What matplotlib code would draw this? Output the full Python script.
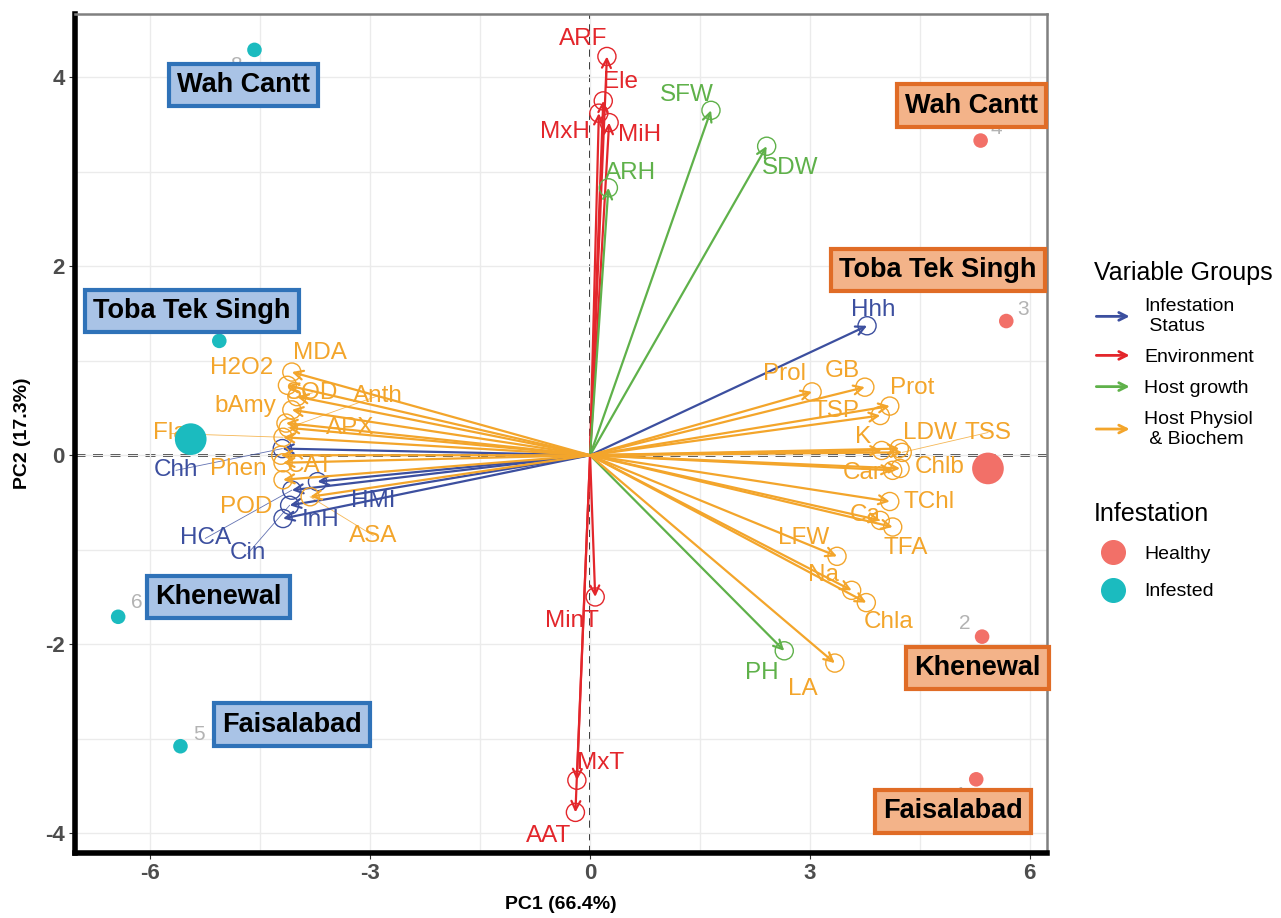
import numpy as np
import matplotlib.pyplot as plt
from matplotlib.patches import FancyArrowPatch
from matplotlib.legend_handler import HandlerPatch
from matplotlib.lines import Line2D

plt.rcParams['font.family'] = ['Liberation Sans', 'DejaVu Sans']
plt.rcParams['axes.unicode_minus'] = False

# --- variable loadings (arrow tips) and label positions ---
var_names = ['ARF', 'Ele', 'MxH', 'MiH', 'MinT', 'MxT', 'AAT',
             'ARH', 'SFW', 'SDW', 'PH',
             'Hhh', 'Chh', 'HCA', 'HMI', 'InH', 'Cin',
             'MDA', 'H2O2', 'SOD', 'bAmy', 'Anth', 'APX', 'Fla', 'Phen', 'CAT', 'POD', 'ASA',
             'Prol', 'GB', 'Prot', 'TSP', 'K', 'LDW', 'TSS', 'Car', 'Chlb', 'TChl', 'Ca', 'TFA',
             'LFW', 'Na', 'Chla', 'LA']
var_group = (['Environment'] * 7 + ['Host growth'] * 4 + ['Infestation Status'] * 6
             + ['Host Physiol & Biochem'] * 27)
var_x = [0.23, 0.18, 0.12, 0.26, 0.07, -0.18, -0.20,
         0.25, 1.65, 2.41, 2.65,
         3.78, -4.20, -4.07, -3.72, -4.19, -4.10,
         -4.07, -4.13, -4.00, -4.07, -4.12, -4.15, -4.19, -4.22, -4.19, -4.19, -3.82,
         3.03, 3.75, 4.09, 3.96, 3.98, 4.22, 4.26, 4.13, 4.23, 4.09, 3.96, 4.13,
         3.37, 3.57, 3.77, 3.34]
var_y = [4.22, 3.75, 3.62, 3.52, -1.50, -3.44, -3.78,
         2.83, 3.65, 3.27, -2.07,
         1.37, 0.07, -0.37, -0.28, -0.67, -0.53,
         0.88, 0.74, 0.62, 0.48, 0.29, 0.34, 0.19, 0.00, -0.08, -0.26, -0.44,
         0.67, 0.72, 0.52, 0.42, 0.05, 0.07, 0.03, -0.16, -0.14, -0.49, -0.69, -0.76,
         -1.07, -1.43, -1.56, -2.20]
lab_x = [-0.10, 0.41, -0.34, 0.68, -0.25, 0.14, -0.57,
         0.55, 1.32, 2.73, 2.35,
         3.86, -5.65, -5.25, -2.96, -3.68, -4.67,
         -3.68, -4.75, -3.79, -4.71, -2.89, -3.27, -5.73, -4.80, -3.82, -4.69, -2.96,
         2.65, 3.44, 4.39, 3.36, 3.72, 4.64, 5.43, 3.71, 4.77, 4.62, 3.75, 4.31,
         2.92, 3.18, 4.07, 2.91]
lab_y = [4.41, 3.95, 3.42, 3.39, -1.75, -3.26, -4.03,
         2.99, 3.81, 3.04, -2.30,
         1.54, -0.16, -0.88, -0.48, -0.69, -1.04,
         1.08, 0.92, 0.66, 0.52, 0.63, 0.29, 0.23, -0.15, -0.11, -0.55, -0.85,
         0.86, 0.89, 0.71, 0.47, 0.19, 0.24, 0.24, -0.19, -0.13, -0.49, -0.63, -0.98,
         -0.88, -1.27, -1.76, -2.47]
# labels pushed away from their arrows get a thin connector
connected = ['Chh', 'HCA', 'Cin', 'Anth', 'Fla', 'ASA', 'TSS', 'SOD']

group_order = ['Infestation Status', 'Environment', 'Host growth', 'Host Physiol & Biochem']
group_legend = ['Infestation\n Status', 'Environment', 'Host growth', 'Host Physiol\n & Biochem']
group_color = {'Infestation Status': '#3c4f9f', 'Environment': '#e3262b',
               'Host growth': '#5fb14a', 'Host Physiol & Biochem': '#f3a52b'}

# --- samples ---
sample_id = ['1', '2', '3', '4', '5', '6', '7', '8']
sample_status = ['Healthy'] * 4 + ['Infested'] * 4
sample_x = [5.27, 5.35, 5.68, 5.33, -5.59, -6.44, -5.06, -4.58]
sample_y = [-3.43, -1.92, 1.42, 3.33, -3.08, -1.71, 1.21, 4.29]
id_x = [5.05, 5.11, 5.91, 5.55, -5.34, -6.18, -4.81, -4.83]
id_y = [-3.60, -1.78, 1.54, 3.46, -2.96, -1.56, 1.35, 4.12]
centroid_x = [5.43, -5.45]
centroid_y = [-0.14, 0.17]
status_color = {'Healthy': '#f27068', 'Infested': '#1bbbbf'}

# --- location boxes ---
site_names = ['Wah Cantt', 'Toba Tek Singh', 'Khenewal', 'Faisalabad']
site_left_x = [-4.73, -5.43, -5.07, -4.07]
site_left_y = [3.92, 1.53, -1.50, -2.85]
site_right_x = [5.21, 4.75, 5.29, 4.95]
site_right_y = [3.70, 1.96, -2.25, -3.77]

fig = plt.figure(figsize=(12.81, 9.18), dpi=100)
ax = fig.add_axes([0.0585, 0.0708, 0.7585, 0.914])

ax.set_xticks([-6, -3, 0, 3, 6])
ax.set_yticks([-4, -2, 0, 2, 4])
ax.set_xticks(np.arange(-7.5, 6.5, 1.5), minor=True)
ax.set_yticks(np.arange(-5, 5, 1), minor=True)
ax.set_xlim(-7.03, 6.23)
ax.set_ylim(-4.21, 4.67)
ax.grid(True, which='both', color='#ebebeb', lw=1.0, zorder=0)
ax.tick_params(which='minor', length=0)
ax.tick_params(which='major', length=4, labelsize=16, labelcolor='#4d4d4d', color='#333333')
for lab in ax.get_xticklabels() + ax.get_yticklabels():
    lab.set_fontweight('bold')

for side in ['left', 'bottom']:
    ax.spines[side].set_linewidth(4)
    ax.spines[side].set_color('black')
for side in ['top', 'right']:
    ax.spines[side].set_linewidth(1.8)
    ax.spines[side].set_color('#808080')

ax.axhline(0, color='black', ls=(0, (4, 3)), lw=1.8, zorder=1)
ax.axvline(0, color='black', ls=(0, (4, 3)), lw=1.3, zorder=1)

# arrows
for name, g, x, y, lx, ly in zip(var_names, var_group, var_x, var_y, lab_x, lab_y):
    c = group_color[g]
    ax.annotate('', xy=(x, y), xytext=(0, 0),
                arrowprops=dict(arrowstyle='->', color=c, lw=1.6,
                                mutation_scale=16, shrinkA=0, shrinkB=0),
                zorder=3)
    ax.scatter([x], [y], s=170, facecolors='none', edgecolors=c, linewidths=1.0, zorder=3)
    if name in connected:
        ax.plot([x, lx], [y, ly], color=c, lw=0.6, alpha=0.8, zorder=2)
    ax.text(lx, ly, name, color=c, fontsize=17.5, ha='center', va='center', zorder=4)

# samples
for sid, st, x, y, ix, iy in zip(sample_id, sample_status, sample_x, sample_y, id_x, id_y):
    ax.scatter([x], [y], s=110, color=status_color[st], zorder=5, edgecolors='none')
    ax.text(ix, iy, sid, color='#b3b3b3', fontsize=15, ha='center', va='center', zorder=4)
ax.scatter(centroid_x, centroid_y, s=520, color=[status_color['Healthy'], status_color['Infested']],
           zorder=5, edgecolors='none')

# site boxes
for name, x, y in zip(site_names, site_left_x, site_left_y):
    ax.text(x, y, name, fontsize=19.5, fontweight='bold', color='black', ha='center', va='center',
            zorder=6, bbox=dict(boxstyle='square,pad=0.3', fc='#a9c3e6', ec='#2f72b8', lw=3))
for name, x, y in zip(site_names, site_right_x, site_right_y):
    ax.text(x, y, name, fontsize=19.5, fontweight='bold', color='black', ha='center', va='center',
            zorder=6, bbox=dict(boxstyle='square,pad=0.3', fc='#f3b389', ec='#e06c26', lw=3))

ax.set_xlabel('PC1 (66.4%)', fontsize=14, fontweight='bold', labelpad=8)
ax.set_ylabel('PC2 (17.3%)', fontsize=14, fontweight='bold', labelpad=10)


# legends
class ArrowHandler(HandlerPatch):
    def create_artists(self, legend, orig_handle, xdescent, ydescent, width, height, fontsize, trans):
        y = height / 2 - ydescent
        arr = FancyArrowPatch((-xdescent, y), (width - xdescent, y), arrowstyle='->',
                              mutation_scale=14, lw=2, color=orig_handle.get_edgecolor(),
                              transform=trans)
        return [arr]


arrow_handles = [FancyArrowPatch((0, 0), (1, 0), color=group_color[g]) for g in group_order]
leg1 = fig.legend(arrow_handles, group_legend, title='Variable Groups',
                  handler_map={FancyArrowPatch: ArrowHandler()},
                  loc='upper left', bbox_to_anchor=(0.840, 0.735), frameon=False,
                  fontsize=14, title_fontsize=18, handlelength=2.0, handletextpad=0.6,
                  labelspacing=0.7, alignment='left')

pt_handles = [Line2D([0], [0], marker='o', ls='none', markersize=17, color=status_color[s])
              for s in ['Healthy', 'Infested']]
leg2 = fig.legend(pt_handles, ['Healthy', 'Infested'], title='Infestation',
                  loc='upper left', bbox_to_anchor=(0.840, 0.472), frameon=False,
                  fontsize=14, title_fontsize=18, handlelength=2.0, handletextpad=0.6,
                  labelspacing=1.0, alignment='left')

fig.savefig('out.png', dpi=100)
